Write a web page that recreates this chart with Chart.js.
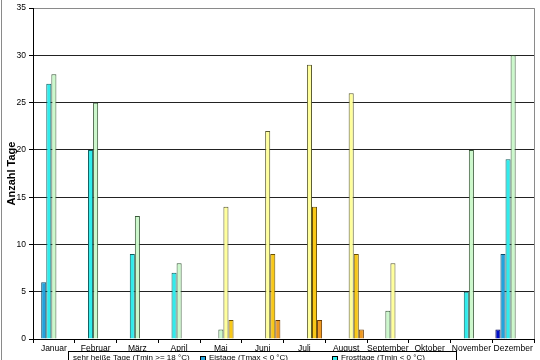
<!DOCTYPE html>
<html>
<head>
<meta charset="utf-8">
<script src="https://cdn.jsdelivr.net/npm/chart.js@4/dist/chart.umd.min.js"></script>
<style>
  html, body { margin: 0; padding: 0; background: #fff; overflow: hidden; }
  #wrap { width: 540px; height: 360px; }
</style>
</head>
<body>
<div id="wrap"><canvas id="chart" width="540" height="360"></canvas></div>
<script>
const months = ['Januar', 'Februar', 'März', 'April', 'Mai', 'Juni',
  'Juli', 'August', 'September', 'Oktober', 'November', 'Dezember'];

const sehrKalteTage = [0, 0, 0, 0, 0, 0, 0, 0, 0, 0, 0, 1];
const eistage       = [6, 0, 0, 0, 0, 0, 0, 0, 0, 0, 0, 9];
const frosttage     = [27, 20, 9, 7, 0, 0, 0, 0, 0, 0, 5, 19];
const kalteTage     = [28, 25, 13, 8, 1, 0, 0, 0, 3, 0, 20, 30];
const sommertage    = [0, 0, 0, 0, 14, 22, 29, 26, 8, 0, 0, 0];
const heisseTage    = [0, 0, 0, 0, 2, 9, 14, 9, 0, 0, 0, 0];
const tropennaechte = [0, 0, 0, 0, 0, 2, 2, 1, 0, 0, 0, 0];

const yTicks = [0, 5, 10, 15, 20, 25, 30, 35];

const FONT = 'Liberation Sans, Arial, sans-serif';

const makeSet = (label, data, bg, border) => ({
  label,
  data,
  backgroundColor: bg,
  borderColor: border,
  borderWidth: 1,
  barPercentage: 1,
  categoryPercentage: 0.85
});

// legend entries in the order shown in the (cut off) first legend row
const legendOrder = [6, 1, 2, 0, 3, 4, 5];

const frame = {
  id: 'frame',
  afterDraw(chart) {
    const { ctx, chartArea: area } = chart;
    ctx.save();
    // plot border right side
    ctx.strokeStyle = '#8a8a8a';
    ctx.lineWidth = 1;
    ctx.beginPath();
    ctx.moveTo(area.right + 0.5, area.top);
    ctx.lineTo(area.right + 0.5, area.bottom);
    ctx.stroke();
    // outer chart frame on the left
    ctx.beginPath();
    ctx.moveTo(1.5, 0);
    ctx.lineTo(1.5, 360);
    ctx.stroke();

    // legend box (cut off by the picture edge)
    ctx.strokeStyle = '#000';
    ctx.strokeRect(68.5, 351.5, 388, 40);
    const xs = [64, 200, 332];
    ctx.font = '8px ' + FONT;
    ctx.textBaseline = 'top';
    legendOrder.slice(0, 3).forEach((idx, i) => {
      const ds = chart.data.datasets[idx];
      const x = xs[i];
      if (i > 0) {
        ctx.fillStyle = ds.backgroundColor;
        ctx.fillRect(x, 356, 5, 5);
        ctx.strokeStyle = '#000';
        ctx.strokeRect(x + 0.5, 356.5, 5, 5);
      }
      ctx.fillStyle = '#000';
      ctx.fillText(ds.label, x + 9, 354);
    });
    ctx.restore();
  }
};

const ctx = document.getElementById('chart').getContext('2d');
new Chart(ctx, {
  type: 'bar',
  data: {
    labels: months,
    datasets: [
      makeSet('sehr kalte Tage (Tmax < -10 °C)', sehrKalteTage, '#0010c8', '#000050'),
      makeSet('Eistage (Tmax < 0 °C)', eistage, '#22a3dc', '#0a4a6a'),
      makeSet('Frosttage (Tmin < 0 °C)', frosttage, '#30ecec', '#106060'),
      makeSet('kalte Tage (Tmax < 10 °C)', kalteTage, '#ccf8cc', '#3a5a3a'),
      makeSet('Sommertage (Tmax >= 25 °C)', sommertage, '#ffff9c', '#5a5a30'),
      makeSet('heiße Tage (Tmax >= 30 °C)', heisseTage, '#f8c818', '#6a5000'),
      makeSet('sehr heiße Tage (Tmin >= 18 °C)', tropennaechte, '#f09a20', '#6a3a00')
    ]
  },
  options: {
    responsive: false,
    animation: false,
    layout: { padding: { top: 7, right: 6, bottom: 9, left: 0 } },
    plugins: {
      legend: { display: false },
      tooltip: { enabled: false }
    },
    scales: {
      x: {
        offset: true,
        grid: {
          offset: true,
          drawOnChartArea: false,
          color: '#000',
          tickLength: 4
        },
        border: { color: '#000' },
        ticks: {
          color: '#000',
          padding: 1,
          maxRotation: 0,
          autoSkip: false,
          font: { family: FONT, size: 8.5 }
        },
        afterFit: scale => { scale.height = 12; }
      },
      y: {
        min: 0,
        max: 35,
        afterBuildTicks: scale => { scale.ticks = yTicks.map(value => ({ value })); },
        grid: {
          color: c => (c.tick && c.tick.value === 35 ? '#8a8a8a' : '#222'),
          tickColor: '#000',
          tickLength: 4
        },
        border: { color: '#000' },
        ticks: {
          color: '#000',
          padding: 3,
          font: { family: FONT, size: 8.5 }
        },
        title: {
          display: true,
          text: 'Anzahl Tage',
          color: '#000',
          padding: { top: 5, bottom: 0 },
          font: { family: FONT, size: 11, weight: 'bold' }
        },
        afterFit: scale => { scale.width = 33; }
      }
    }
  },
  plugins: [frame]
});
</script>
</body>
</html>
